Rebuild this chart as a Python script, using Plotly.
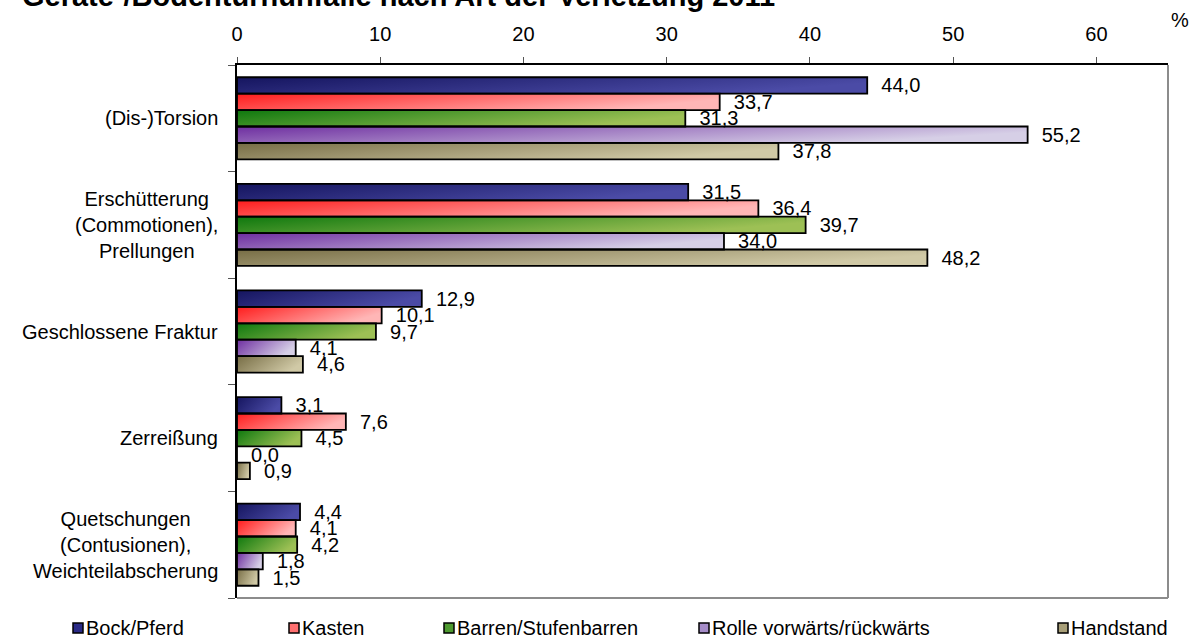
import base64
import plotly.graph_objects as go

# Injury types (one group of bars each) and apparatus series
categories = [
    "(Dis-)Torsion",
    "Erschütterung<br>(Commotionen),<br>Prellungen",
    "Geschlossene Fraktur",
    "Zerreißung",
    "Quetschungen<br>(Contusionen),<br>Weichteilabscherung",
]
series_names = ["Bock/Pferd", "Kasten", "Barren/Stufenbarren",
                "Rolle vorwärts/rückwärts", "Handstand"]

bock_pferd = [44.0, 31.5, 12.9, 3.1, 4.4]
kasten = [33.7, 36.4, 10.1, 7.6, 4.1]
barren = [31.3, 39.7, 9.7, 4.5, 4.2]
rolle = [55.2, 34.0, 4.1, 0.0, 1.8]
handstand = [37.8, 48.2, 4.6, 0.9, 1.5]

x_tick_values = [0, 10, 20, 30, 40, 50, 60]
title_text = "Geräte-/Bodenturnunfälle nach Art der Verletzung 2011"

series_values = [bock_pferd, kasten, barren, rolle, handstand]

# gradient fill (dark -> light) and flat legend swatch colour per series
gradients = [
    ("#15155f", "#4b4ba6"),
    ("#ff1c1c", "#ffb6b6"),
    ("#0e780e", "#9dc055"),
    ("#6e2ea0", "#d6cfe6"),
    ("#776d45", "#d0c9a6"),
]
swatch_colors = ["#2a2a86", "#ff7070", "#4e9a30", "#a58cc8", "#a89f78"]

FONT = "Arial, Liberation Sans, sans-serif"
W, H = 1195, 639
M_L, M_R, M_T, M_B = 237, 27, 65, 41
PLOT_W, PLOT_H = W - M_L - M_R, H - M_T - M_B

BARGAP = 0.23
n_series = len(series_names)
bar_w = (1 - BARGAP) / n_series
positions = list(range(len(categories)))


def gradient_uri(c0, c1):
    svg = (
        "<svg xmlns='http://www.w3.org/2000/svg' width='200' height='20' "
        "viewBox='0 0 200 20' preserveAspectRatio='none'>"
        "<defs><linearGradient id='g' x1='0' y1='0' x2='1' y2='0.35'>"
        f"<stop offset='0' stop-color='{c0}'/><stop offset='1' stop-color='{c1}'/>"
        "</linearGradient></defs>"
        "<rect width='200' height='20' fill='url(#g)'/></svg>"
    )
    return "data:image/svg+xml;base64," + base64.b64encode(svg.encode()).decode()


def fmt(v):
    return f"{v:.1f}".replace(".", ",")


fig = go.Figure()
images = []
for i, (name, vals) in enumerate(zip(series_names, series_values)):
    fig.add_trace(go.Bar(
        name=name,
        orientation="h",
        x=vals,
        y=positions,
        marker=dict(color="rgba(0,0,0,0)", line=dict(color="black", width=1.8)),
        text=["\u00a0\u00a0" + fmt(v) for v in vals],
        textposition="outside",
        textfont=dict(family=FONT, size=20, color="black"),
        constraintext="none",
        cliponaxis=False,
        showlegend=False,
        hoverinfo="x+name",
    ))
    src = gradient_uri(*gradients[i])
    offset = -(1 - BARGAP) / 2 + (i + 0.5) * bar_w
    for c, v in zip(positions, vals):
        if v > 0:
            images.append(dict(
                source=src, xref="x", yref="y", x=0, y=c + offset,
                sizex=v, sizey=bar_w, xanchor="left", yanchor="middle",
                sizing="stretch", layer="below",
            ))

annotations = []
# category labels, centred lines, right-aligned block
for c, label in zip(positions, categories):
    annotations.append(dict(
        text=label, xref="paper", yref="y", x=0, y=c, xanchor="right",
        yanchor="middle", xshift=-17, align="center", showarrow=False,
        font=dict(family=FONT, size=20, color="black"),
    ))

# unit label at the top right
annotations.append(dict(
    text="%", xref="paper", yref="paper",
    x=(1180 - M_L) / PLOT_W, y=(H - M_B - 20) / PLOT_H,
    xanchor="center", yanchor="middle", showarrow=False,
    font=dict(family=FONT, size=20, color="black"),
))

shapes = [
    # grey frame on the right and bottom of the plot area
    dict(type="line", xref="x domain", yref="y domain", x0=1, x1=1, y0=0, y1=1,
         line=dict(color="#8c8c8c", width=2)),
    dict(type="line", xref="x domain", yref="y domain", x0=0, x1=1, y0=0, y1=0,
         line=dict(color="#8c8c8c", width=2)),
]

# legend row below the plot
legend_left = [73, 289, 444, 699, 1058]
legend_y = 628
sq = 10
for x0, name, col in zip(legend_left, series_names, swatch_colors):
    shapes.append(dict(
        type="rect", xref="paper", yref="paper",
        x0=(x0 - M_L) / PLOT_W, x1=(x0 + sq - M_L) / PLOT_W,
        y0=(H - M_B - legend_y - sq / 2) / PLOT_H,
        y1=(H - M_B - legend_y + sq / 2) / PLOT_H,
        fillcolor=col, line=dict(color="black", width=1.5),
    ))
    annotations.append(dict(
        text=name, xref="paper", yref="paper",
        x=(x0 + sq + 1 - M_L) / PLOT_W, y=(H - M_B - legend_y) / PLOT_H,
        xanchor="left", yanchor="middle", showarrow=False,
        font=dict(family=FONT, size=20, color="black"),
    ))

fig.update_layout(
    width=W, height=H,
    margin=dict(l=M_L, r=M_R, t=M_T, b=M_B, pad=0),
    paper_bgcolor="white", plot_bgcolor="white",
    barmode="group", bargap=BARGAP, bargroupgap=0,
    showlegend=False,
    title=dict(
        text=title_text, xref="container", yref="container",
        x=22 / W, xanchor="left", y=1 - 6 / H, yanchor="bottom",
        font=dict(family=FONT, size=29, color="black", weight="bold"),
    ),
    xaxis=dict(
        side="top", range=[0, 65], tickmode="array", tickvals=x_tick_values,
        ticks="outside", ticklen=6, tickwidth=1, tickcolor="#555",
        showline=True, linecolor="black", linewidth=2,
        showgrid=False, zeroline=False,
        tickfont=dict(family=FONT, size=20, color="black"),
        ticklabelstandoff=8,
    ),
    yaxis=dict(
        range=[len(categories) - 0.5, -0.5],
        tickmode="array",
        tickvals=[p - 0.5 for p in positions] + [positions[-1] + 0.5],
        showticklabels=False,
        ticks="outside", ticklen=7, tickwidth=1, tickcolor="#555",
        showline=True, linecolor="black", linewidth=2,
        showgrid=False, zeroline=False,
    ),
    images=images,
    annotations=annotations,
    shapes=shapes,
)

fig.write_html("out.html")
